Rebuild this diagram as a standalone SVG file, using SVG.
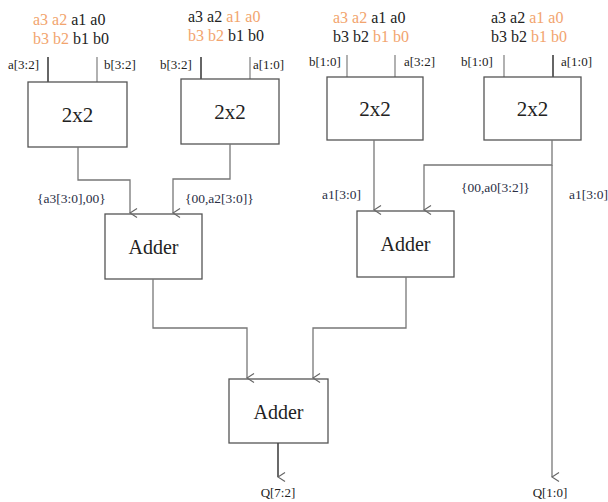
<svg xmlns="http://www.w3.org/2000/svg" width="608" height="502" viewBox="0 0 608 502">
<defs>
<style>
.box{fill:#fff;stroke:#555;stroke-width:1.3}
.w{fill:none;stroke:#777;stroke-width:1.3}
.in{fill:none;stroke:#333;stroke-width:1.5}
.inl{fill:none;stroke:#888;stroke-width:1.3}
text{font-family:"Liberation Serif","DejaVu Serif","Times New Roman",serif}
.bits{font-size:16px;fill:#222}
.o{fill:#f2a46e}
.pl{font-size:13px;fill:#222}
.cl{font-size:13.5px;fill:#2a2f45}
.big{font-size:21px;fill:#222;text-anchor:middle}
.add{font-size:20px;fill:#222;text-anchor:middle}
</style>
<marker id="arr" viewBox="0 0 12 12" refX="6" refY="11" markerWidth="12" markerHeight="12" markerUnits="userSpaceOnUse" orient="auto">
<polyline points="1.5,4 6,11 10.5,4" fill="none" stroke="#666" stroke-width="1.2"/>
</marker>
</defs>
<rect width="608" height="502" fill="#fff"/>

<g id="m1">
<text class="bits" x="33" y="25"><tspan class="o">a3 a2</tspan> a1 a0</text>
<text class="bits" x="33" y="44"><tspan class="o">b3 b2</tspan> b1 b0</text>
<text class="pl" x="8" y="69">a[3:2]</text>
<text class="pl" x="104" y="69">b[3:2]</text>
<line class="in" x1="48" y1="57" x2="48" y2="82"/>
<line class="inl" x1="97" y1="57" x2="97" y2="82"/>
<rect class="box" x="28" y="82" width="99" height="65"/>
<text class="big" x="77.5" y="122">2x2</text>
</g>

<g id="m2">
<text class="bits" x="188" y="22">a3 a2 <tspan class="o">a1 a0</tspan></text>
<text class="bits" x="188" y="41"><tspan class="o">b3 b2</tspan> b1 b0</text>
<text class="pl" x="160" y="69">b[3:2]</text>
<text class="pl" x="253" y="69">a[1:0]</text>
<line class="in" x1="201" y1="57" x2="201" y2="79"/>
<line class="inl" x1="250" y1="57" x2="250" y2="79"/>
<rect class="box" x="181" y="79" width="98" height="65"/>
<text class="big" x="230" y="119">2x2</text>
</g>

<g id="m3">
<text class="bits" x="333" y="23"><tspan class="o">a3 a2</tspan> a1 a0</text>
<text class="bits" x="333" y="42">b3 b2 <tspan class="o">b1 b0</tspan></text>
<text class="pl" x="309" y="66">b[1:0]</text>
<text class="pl" x="404" y="66">a[3:2]</text>
<line class="inl" x1="347" y1="55" x2="347" y2="77"/>
<line class="inl" x1="395" y1="55" x2="395" y2="77"/>
<rect class="box" x="327" y="77" width="96" height="63"/>
<text class="big" x="375" y="116">2x2</text>
</g>

<g id="m4">
<text class="bits" x="491" y="23">a3 a2 <tspan class="o">a1 a0</tspan></text>
<text class="bits" x="491" y="42">b3 b2 <tspan class="o">b1 b0</tspan></text>
<text class="pl" x="461" y="66">b[1:0]</text>
<text class="pl" x="561" y="66">a[1:0]</text>
<line class="inl" x1="504" y1="55" x2="504" y2="77"/>
<line class="in" x1="553" y1="55" x2="553" y2="77"/>
<rect class="box" x="484" y="77" width="97" height="63"/>
<text class="big" x="532.5" y="116">2x2</text>
</g>

<g id="add1">
<rect class="box" x="105" y="214" width="97" height="65"/>
<text class="add" x="153.5" y="254">Adder</text>
</g>

<g id="add2">
<rect class="box" x="357" y="211" width="97" height="66"/>
<text class="add" x="405.5" y="251">Adder</text>
</g>

<g id="add3">
<rect class="box" x="229" y="379" width="99" height="64"/>
<text class="add" x="278.5" y="419">Adder</text>
</g>

<g id="connectors">
<polyline class="w" points="78,147 78,180 130,180 130,213" marker-end="url(#arr)"/>
<polyline class="w" points="230,144 230,179 173,179 173,213" marker-end="url(#arr)"/>
<polyline class="w" points="374,140 374,210" marker-end="url(#arr)"/>
<polyline class="w" points="552,140 552,165 424,165 424,210" marker-end="url(#arr)"/>
<polyline class="w" points="552,165 552,477" marker-end="url(#arr)"/>
<polyline class="w" points="153,279 153,328 247,328 247,378" marker-end="url(#arr)"/>
<polyline class="w" points="406,277 406,328 313,328 313,378" marker-end="url(#arr)"/>
<polyline class="w" style="stroke:#444;stroke-width:1.6" points="278,443 278,477" marker-end="url(#arr)"/>
<text class="cl" x="37" y="203">{a3[3:0],00}</text>
<text class="cl" x="185" y="203">{00,a2[3:0]}</text>
<text class="cl" x="322" y="199">a1[3:0]</text>
<text class="cl" x="461" y="192">{00,a0[3:2]}</text>
<text class="cl" x="569" y="199">a1[3:0]</text>
<text class="pl" x="278" y="497" text-anchor="middle">Q[7:2]</text>
<text class="pl" x="550" y="497" text-anchor="middle">Q[1:0]</text>
</g>
</svg>
